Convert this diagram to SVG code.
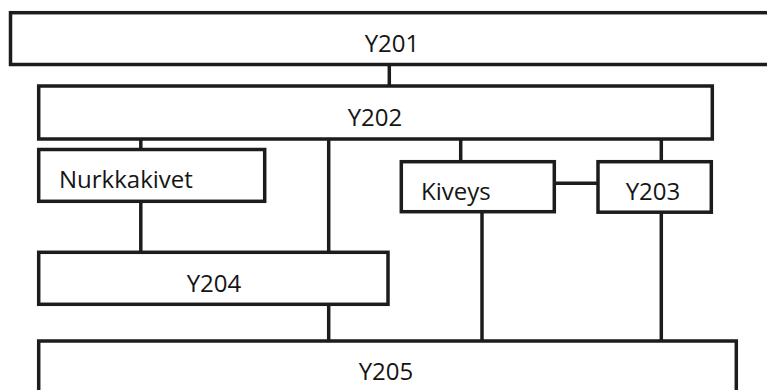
<svg xmlns="http://www.w3.org/2000/svg" width="767" height="390" viewBox="0 0 767 390">
<style>
.box{fill:#fff;stroke:#1c1c1c;stroke-width:3.5}
.c{stroke:#1c1c1c;stroke-width:3.5;fill:none}
.t{font-family:"Open Sans","Liberation Sans",sans-serif;font-size:24px;fill:#151515}
.m{text-anchor:middle}
</style>
<rect width="767" height="390" fill="#fff"/>
<g id="connectors">
<line class="c" x1="389.3" y1="64.5" x2="389.3" y2="86"/>
<line class="c" x1="140.8" y1="139" x2="140.8" y2="149.5"/>
<line class="c" x1="328.7" y1="136.5" x2="328.7" y2="252.3"/>
<line class="c" x1="460.7" y1="139" x2="460.7" y2="161.7"/>
<line class="c" x1="661.3" y1="139" x2="661.3" y2="161.7"/>
<line class="c" x1="554.3" y1="183.3" x2="598" y2="183.3"/>
<line class="c" x1="140.8" y1="201.3" x2="140.8" y2="252.3"/>
<line class="c" x1="482" y1="211.7" x2="482" y2="341"/>
<line class="c" x1="661.3" y1="212" x2="661.3" y2="341"/>
<line class="c" x1="328.7" y1="304.3" x2="328.7" y2="341"/>
</g>
<g id="Y201">
<rect class="box" x="10.5" y="12.7" width="770" height="51.8"/>
<text class="t m" x="392" y="52.3">Y201</text>
</g>
<g id="Y202">
<rect class="box" x="38.7" y="86" width="673.6" height="53"/>
<text class="t m" x="375" y="126">Y202</text>
</g>
<g id="Nurkkakivet">
<rect class="box" x="38.7" y="149.5" width="226" height="51.8"/>
<text class="t" x="59" y="188.3">Nurkkakivet</text>
</g>
<g id="Kiveys">
<rect class="box" x="401.3" y="161.7" width="153" height="50"/>
<text class="t" x="421" y="200">Kiveys</text>
</g>
<g id="Y203">
<rect class="box" x="598" y="161.7" width="113.3" height="50.5"/>
<text class="t m" x="653" y="200">Y203</text>
</g>
<g id="Y204">
<rect class="box" x="38.7" y="252.3" width="349.3" height="52"/>
<text class="t m" x="214" y="292">Y204</text>
</g>
<g id="Y205">
<rect class="box" x="38.7" y="341" width="697.6" height="60"/>
<text class="t m" x="386" y="380">Y205</text>
</g>
</svg>
